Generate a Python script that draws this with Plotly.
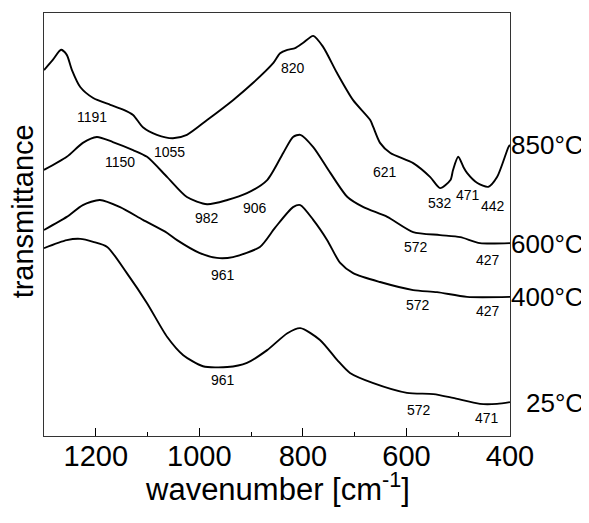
import plotly.graph_objects as go

# ---- data ----
wn_850 = [1300, 1283, 1267, 1256, 1246, 1230, 1205, 1172, 1150, 1128, 1109, 1082, 1051, 1024, 985, 935, 896,
          857, 844, 830, 815, 800, 780, 761, 734, 703, 670, 664, 651, 631, 587, 554, 535, 515, 510,
          500, 490, 483, 463, 442, 425, 403, 400]
t_850 = [86.5, 88.9, 91.3, 90.1, 86.5, 82.5, 79.9, 78.3, 77.3, 75.9, 73.0, 71.2, 70.4, 71.2, 74.7, 79.4, 83.5,
         88.2, 90.5, 91.3, 91.7, 92.9, 94.6, 92.0, 85.8, 79.4, 74.7, 73.0, 69.3, 66.9, 64.5, 61.2, 58.6, 60.5, 62.9,
         66.0, 63.6, 62.2, 59.8, 58.9, 61.2, 68.3, 68.8]

wn_600 = [1300, 1256, 1225, 1198, 1167, 1128, 1101, 1062, 1024, 985, 946, 908, 869, 838, 819, 805,
          780, 747, 714, 683, 637, 587, 535, 496, 458, 400]
t_600 = [62.9, 66.0, 69.3, 70.7, 69.5, 67.6, 66.0, 61.2, 56.5, 54.8, 55.8, 57.4, 60.5, 66.9, 70.7, 71.2,
         68.3, 62.2, 56.5, 54.1, 51.8, 48.2, 47.5, 47.0, 45.6, 45.6]

wn_400 = [1300, 1256, 1225, 1192, 1153, 1109, 1062, 1043, 1000, 966, 935, 883, 854, 819, 805,
          780, 753, 728, 703, 651, 587, 541, 483, 400]
t_400 = [48.7, 51.8, 54.6, 55.8, 54.1, 51.1, 48.0, 46.3, 43.3, 42.1, 42.3, 44.7, 49.2, 54.1, 54.6,
         51.1, 46.3, 40.9, 38.5, 36.4, 34.5, 34.0, 32.9, 32.9]

wn_25 = [1300, 1256, 1230, 1205, 1178, 1140, 1101, 1062, 1031, 993, 946, 908, 869, 830, 805,
         767, 734, 709, 664, 599, 548, 510, 458, 425, 400]
t_25 = [44.4, 46.3, 46.6, 45.9, 44.7, 38.5, 31.4, 23.4, 19.1, 16.5, 16.3, 17.3, 20.3, 24.3, 25.5,
        22.7, 18.0, 14.9, 12.5, 10.2, 9.9, 9.0, 7.6, 7.6, 8.0]

series_names = ["850°C", "600°C", "400°C", "25°C"]
series_x = [wn_850, wn_600, wn_400, wn_25]
series_y = [t_850, t_600, t_400, t_25]
label_y = [0.688, 0.454, 0.329, 0.078]   # paper positions of right-hand labels

# band labels: (text, wavenumber, transmittance)
band_text = ["1191", "1150", "1055", "982", "906", "820", "621", "532", "471", "442",
             "572", "427", "961", "572", "427", "961", "572", "471"]
band_wn = [1207, 1153, 1057, 985, 892, 819, 641, 535, 481, 432,
           581, 442, 954, 577, 442, 954, 575, 444]
band_t = [75.4, 64.8, 67.1, 51.5, 53.9, 87.0, 62.4, 55.1, 57.0, 54.4,
          44.7, 41.6, 38.1, 31.0, 29.6, 13.2, 6.1, 4.3]

x_ticks = [1200, 1000, 800, 600, 400]
x_title = "wavenumber [cm<sup>-1</sup>]"
y_title = "transmittance"

FONT = "Liberation Sans, Arial, Helvetica, sans-serif"

fig = go.Figure()
for name, xs, ys in zip(series_names, series_x, series_y):
    fig.add_trace(go.Scatter(x=xs, y=ys, mode="lines", name=name,
                             line=dict(color="black", width=1.9, shape="spline", smoothing=0.7),
                             showlegend=False))

for txt, xv, yv in zip(band_text, band_wn, band_t):
    fig.add_annotation(x=xv, y=yv, text=txt, showarrow=False,
                       font=dict(family=FONT, size=14, color="black"))

for name, yp in zip(series_names, label_y):
    fig.add_annotation(x=1.163, y=yp, xref="paper", yref="paper", text=name, showarrow=False,
                       xanchor="right", yanchor="middle",
                       font=dict(family=FONT, size=26, color="black"))

# axis titles
fig.add_annotation(x=0.5, y=-0.12, xref="paper", yref="paper", text=x_title, showarrow=False,
                   xanchor="center", yanchor="middle", borderpad=0,
                   font=dict(family=FONT, size=31, color="black"))
fig.add_annotation(x=-0.046, y=0.53, xref="paper", yref="paper", text=y_title, showarrow=False,
                   textangle=-90, xanchor="center", yanchor="middle", borderpad=0,
                   font=dict(family=FONT, size=29, color="black"))

fig.update_layout(
    width=581, height=507,
    margin=dict(l=36, r=79, t=5, b=79, autoexpand=False),
    paper_bgcolor="white", plot_bgcolor="white",
    font=dict(family=FONT, color="black"),
)
fig.update_xaxes(range=[1300, 400], tickvals=x_ticks, ticks="inside", ticklen=8, tickwidth=1,
                 tickcolor="black", showline=True, linecolor="#333", linewidth=1, mirror=True,
                 showgrid=False, zeroline=False, automargin=False, ticklabelstandoff=-6,
                 tickfont=dict(family=FONT, size=29),
                 minor=dict(dtick=100, tick0=400, ticks="inside", ticklen=4, tickcolor="black"))
fig.update_yaxes(range=[0, 100], showticklabels=False, ticks="", showline=True, linecolor="#333",
                 linewidth=1, mirror=True, showgrid=False, zeroline=False, automargin=False)

fig.write_html("out.html")
